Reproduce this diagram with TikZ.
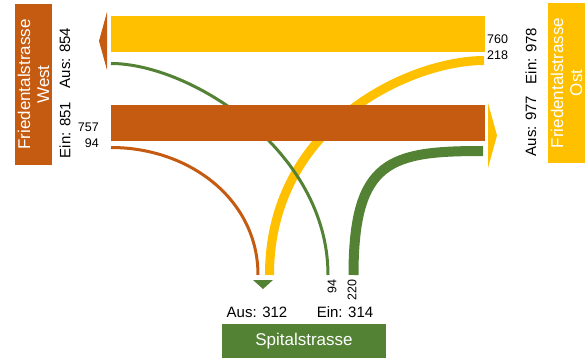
\documentclass[tikz,border=0pt]{standalone}
\usepackage{fontspec}
\setmainfont{Liberation Sans}
\definecolor{westcol}{HTML}{C55A11}
\definecolor{ostcol}{HTML}{FFC000}
\definecolor{spitalcol}{HTML}{548235}
\begin{document}
\begin{tikzpicture}[x=1pt,y=-1pt,
    strasse/.style={fill=#1,text=white,align=center,inner sep=0pt,
      font=\fontsize{17}{19}\selectfont},
    summe/.style={inner sep=0pt,font=\fontsize{15}{18}\selectfont},
    zahl/.style={inner sep=0pt,font=\fontsize{12.5}{15}\selectfont},
    fluss/.style={draw=#1,line cap=butt}]
    \useasboundingbox (0,0) rectangle (586,358);
    % streets
    \node[strasse=westcol,rotate=90,minimum width=161pt,minimum height=37pt] (west) at (33.5,84.5) {Friedentalstrasse\\West};
    \node[strasse=ostcol,rotate=90,minimum width=160pt,minimum height=37pt] (ost) at (566.5,83) {Friedentalstrasse\\Ost};
    \node[strasse=spitalcol,minimum width=164pt,minimum height=34pt] (spital) at (304,341) {Spitalstrasse};
    % flow ends
    \coordinate (ow-o) at (485,34);    \coordinate (ow-w) at (111,34);
    \coordinate (wo-w) at (111,123);   \coordinate (wo-o) at (485,123);
    \coordinate (os-o) at (484,60.5);  \coordinate (os-s) at (269.5,275);
    \coordinate (sw-s) at (328,275);   \coordinate (sw-w) at (111,63.5);
    \coordinate (ws-w) at (111,147.5); \coordinate (ws-s) at (258,275);
    \coordinate (so-s) at (353.5,275); \coordinate (so-o) at (483,151);
    % flows
    \draw[fluss=ostcol,line width=36pt] (ow-o) -- (ow-w);
    \draw[fluss=westcol,line width=3pt] (ws-w) .. controls (190,147.5) and (258,200) .. (ws-s);
    \draw[fluss=ostcol,line width=9pt] (os-o) .. controls (410,60.5) and (269.5,125) .. (os-s);
    \draw[fluss=spitalcol,line width=3pt] (sw-s) .. controls (328,150) and (190,63.5) .. (sw-w);
    \draw[fluss=spitalcol,line width=10pt] (so-s) .. controls (353.5,160) and (390,151) .. (so-o);
    \draw[fluss=westcol,line width=36pt] (wo-w) -- (wo-o);
    % arrow heads
    \fill[westcol] (107,12) -- (99,41) -- (107,70) -- cycle;
    \fill[ostcol] (488,103) -- (497,135.5) -- (488,168) -- cycle;
    \fill[spitalcol] (253,280) -- (273,280) -- (263,289) -- cycle;
    % totals
    \node[summe,rotate=90] (aus-w) at (65,58) {Aus: 854};
    \node[summe,rotate=90] (ein-w) at (65,130) {Ein: 851};
    \node[summe,rotate=90] (ein-o) at (531,56) {Ein: 978};
    \node[summe,rotate=90] (aus-o) at (531,126) {Aus: 977};
    \node[summe] (aus-s) at (257,312) {Aus: 312};
    \node[summe] (ein-s) at (345,312) {Ein: 314};
    % values
    \node[zahl,anchor=east] (z757) at (99,127) {757};
    \node[zahl,anchor=east] (z94w) at (99,143) {94};
    \node[zahl,anchor=west] (z760) at (487,39) {760};
    \node[zahl,anchor=west] (z218) at (487,55) {218};
    \node[zahl,rotate=90,anchor=east] (z94s) at (332,279) {94};
    \node[zahl,rotate=90,anchor=east] (z220) at (352,279) {220};
\end{tikzpicture}
\end{document}
